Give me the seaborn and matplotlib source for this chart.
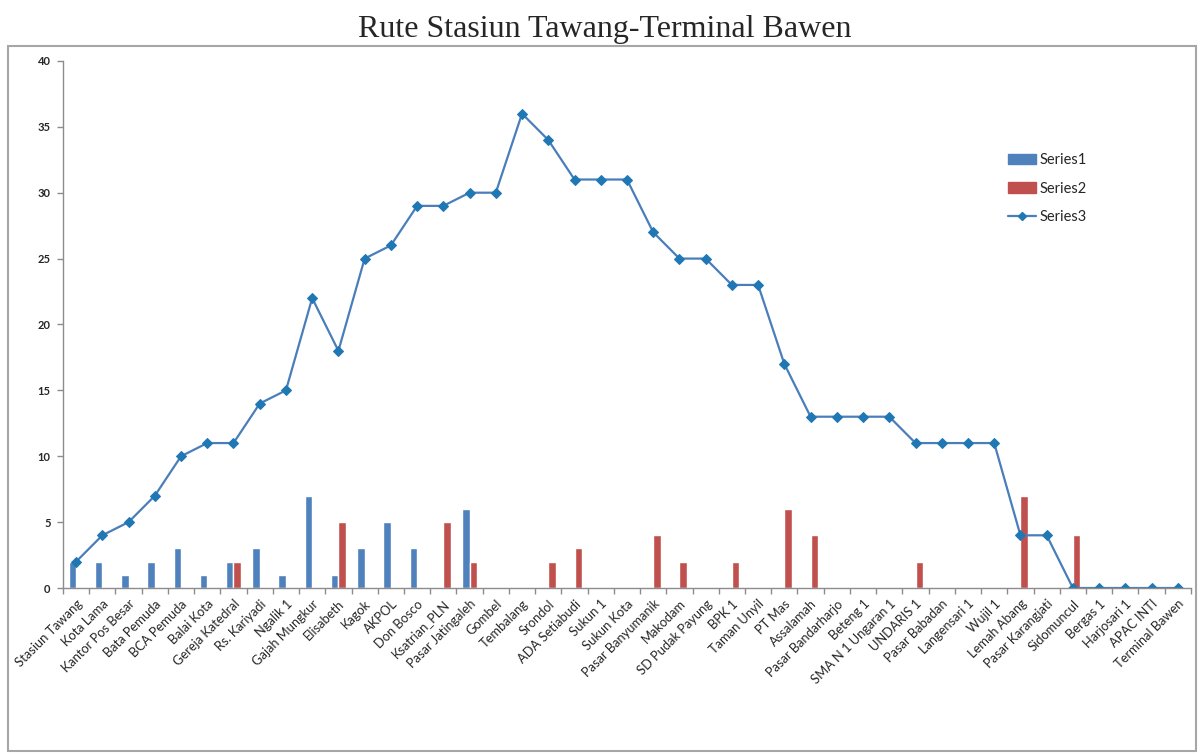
import numpy as np
import pandas as pd
import matplotlib
matplotlib.use('Agg')
import matplotlib.pyplot as plt
import seaborn as sns
from matplotlib.patches import Patch, Rectangle
from matplotlib.lines import Line2D

# ── Data ──────────────────────────────────────────────────
stops = [
    'Stasiun Tawang', 'Kota Lama', 'Kantor Pos Besar', 'Bata Pemuda', 'BCA Pemuda',
    'Balai Kota', 'Gereja Katedral', 'Rs. Kariyadi', 'Ngalik 1', 'Gajah Mungkur',
    'Elisabeth', 'Kagok', 'AKPOL', 'Don Bosco', 'Ksatrian_PLN', 'Pasar Jatingaleh',
    'Gombel', 'Tembalang', 'Srondol', 'ADA Setiabudi', 'Sukun 1', 'Sukun Kota',
    'Pasar Banyumanik', 'Makodam', 'SD Pudak Payung', 'BPK 1', 'Taman Unyil',
    'PT Mas', 'Assalamah', 'Pasar Bandarharjo', 'Beteng 1', 'SMA N 1 Ungaran 1',
    'UNDARIS 1', 'Pasar Babadan', 'Langensari 1', 'Wujil 1', 'Lemah Abang',
    'Pasar Karangjati', 'Sidomuncul', 'Bergas 1', 'Harjosari 1', 'APAC INTI',
    'Terminal Bawen',
]
series1 = [2, 2, 1, 2, 3, 1, 2, 3, 1, 7, 1, 3, 5, 3, 0, 6, 0, 0, 0, 0, 0, 0,
           0, 0, 0, 0, 0, 0, 0, 0, 0, 0, 0, 0, 0, 0, 0, 0, 0, 0, 0, 0, 0]
series2 = [0, 0, 0, 0, 0, 0, 2, 0, 0, 0, 5, 0, 0, 0, 5, 2, 0, 0, 2, 3, 0, 0,
           4, 2, 0, 2, 0, 6, 4, 0, 0, 0, 2, 0, 0, 0, 7, 0, 4, 0, 0, 0, 0]
series3 = [2, 4, 5, 7, 10, 11, 11, 14, 15, 22, 18, 25, 26, 29, 29, 30, 30, 36,
           34, 31, 31, 31, 27, 25, 25, 23, 23, 17, 13, 13, 13, 13, 11, 11, 11,
           11, 4, 4, 0, 0, 0, 0, 0]

blue = '#4F81BD'
red = '#C0504D'
line_c = '#4A7EBB'
mark_c = '#1F78B4'

bars = pd.DataFrame({
    'stop': stops * 2,
    'value': series1 + series2,
    'series': ['Series1'] * len(stops) + ['Series2'] * len(stops),
})

# ── Plot ──────────────────────────────────────────────────
sns.set_style('white')
plt.rcParams['font.family'] = ['Lato', 'DejaVu Sans']

fig = plt.figure(figsize=(12.02, 7.53), dpi=100)
ax = fig.add_axes([0.0524, 0.2191, 0.9384, 0.700])

sns.barplot(data=bars, x='stop', y='value', hue='series', order=stops,
            palette={'Series1': blue, 'Series2': red}, saturation=1,
            width=0.57, legend=False, ax=ax)
sns.lineplot(x=np.arange(len(stops)), y=series3, color=line_c, linewidth=1.6,
             marker='D', markersize=5.5, markerfacecolor=mark_c,
             markeredgecolor=mark_c, ax=ax, legend=False)

ax.set_xlim(-0.46, len(stops) - 0.5)
ax.set_ylim(0, 40)
ax.set_yticks(range(0, 41, 5))
ax.set_xlabel('')
ax.set_ylabel('')

for s in ['top', 'right']:
    ax.spines[s].set_visible(False)
for s in ['left', 'bottom']:
    ax.spines[s].set_color('#8C8C8C')
    ax.spines[s].set_linewidth(1)

ax.tick_params(axis='y', length=4, width=1, color='#8C8C8C', pad=5,
               labelsize=8, left=True)
for lbl in ax.get_yticklabels():
    lbl.set_fontweight('bold')
    lbl.set_color('#262626')

ax.set_xticks(np.arange(len(stops)))
ax.set_xticklabels(stops, rotation=45, ha='right', rotation_mode='anchor',
                   fontsize=9.3, color='#262626')
ax.set_xticks(np.arange(len(stops) + 1) - 0.5, minor=True)
ax.tick_params(axis='x', which='major', length=0, pad=7)
ax.tick_params(axis='x', which='minor', length=4, width=1, color='#8C8C8C',
               bottom=True)

handles = [Patch(color=blue), Patch(color=red),
           Line2D([], [], color=line_c, linewidth=1.6, marker='D',
                  markersize=4, markerfacecolor=mark_c, markeredgecolor=mark_c)]
ax.legend(handles, ['Series1', 'Series2', 'Series3'], loc='upper left',
          bbox_to_anchor=(0.826, 0.85), frameon=False, fontsize=10.5,
          handlelength=1.9, handletextpad=0.3, labelspacing=1.0)

fig.text(0.503, 0.961, 'Rute Stasiun Tawang-Terminal Bawen', ha='center',
         va='center', fontsize=23, family=['Liberation Serif', 'DejaVu Serif'])

fig.patches.append(Rectangle((8 / 1202, 0.002), 1188 / 1202, 0.937,
                             transform=fig.transFigure, fill=False,
                             edgecolor='#A6A6A6', linewidth=1.5))

plt.savefig('out.png', dpi=100)
plt.close()
